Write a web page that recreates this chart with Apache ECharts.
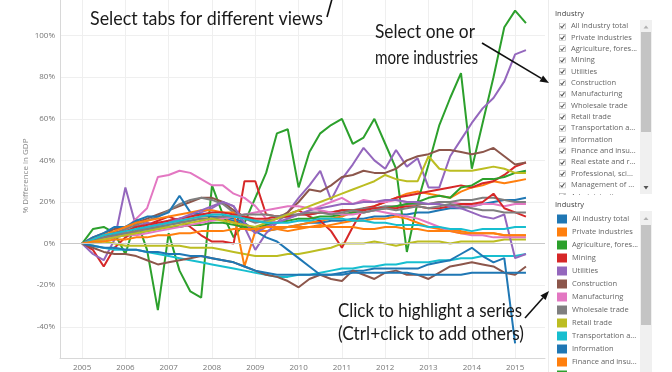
<!DOCTYPE html>
<html><head><meta charset="utf-8">
<script src="https://cdn.jsdelivr.net/npm/echarts@6/dist/echarts.min.js"></script>
<style>html,body{margin:0;padding:0;background:#fff}#c{width:672px;height:372px}</style>
</head><body><div id="c"></div>
<script>
const quarters = [2005,2005.25,2005.5,2005.75,2006,2006.25,2006.5,2006.75,2007,2007.25,2007.5,2007.75,2008,2008.25,2008.5,2008.75,2009,2009.25,2009.5,2009.75,2010,2010.25,2010.5,2010.75,2011,2011.25,2011.5,2011.75,2012,2012.25,2012.5,2012.75,2013,2013.25,2013.5,2013.75,2014,2014.25,2014.5,2014.75,2015,2015.25];
const yearTicks = [2005,2006,2007,2008,2009,2010,2011,2012,2013,2014,2015];
const pctTicks = [-40,-20,0,20,40,60,80,100,120];
const industries = ["All industry total","Private industries","Agriculture, forestry, fishing, and hunting","Mining","Utilities","Construction","Manufacturing","Wholesale trade","Retail trade","Transportation and warehousing","Information","Finance and insurance","Real estate and rental and leasing","Professional, scientific, and technical services","Management of companies and enterprises","Administrative and waste management services","Educational services","Health care and social assistance","Arts, entertainment, and recreation","Accommodation and food services","Other services, except government","Government"];

const allIndustryTotal = [0,2,3,4,5,6,7,8,9,10,11,12,12,12,11,9,7,6,7,8,9,10,10,11,11,12,12,13,13,14,14,15,15,16,17,17,18,19,20,21,21,22];
const privateIndustries = [0,2,3,4,5,6,8,9,10,11,12,13,13,12,10,7,6,6,7,8,9,10,11,12,13,15,16,18,20,22,24,25,24,23,22,25,27,28,30,29,30,31];
const agriculture = [0,7,8,5,-5,12,-3,-32,5,-13,-23,-26,28,14,3,10,22,34,53,55,27,44,53,57,60,48,51,60,48,36,-4,20,38,57,70,82,36,58,80,104,112,106];
const mining = [0,-3,-11,-2,3,6,9,11,13,11,8,4,1,1,0,30,30,14,13,14,16,13,11,6,-2,8,17,18,20,22,23,24,25,26,27,28,27,29,30,33,37,39];
const utilities = [0,-5,-8,2,27,8,10,9,11,12,13,15,17,20,18,8,-3,5,10,15,22,28,35,21,31,38,46,40,36,45,37,41,27,27,42,50,58,65,70,78,91,93];
const construction = [0,3,5,7,8,10,12,14,16,18,20,22,22,20,16,13,11,10,12,15,20,26,25,28,32,33,35,34,34,36,40,42,43,45,45,44,43,44,46,42,38,39];
const manufacturing = [0,2,4,5,7,12,17,32,33,35,34,31,28,28,24,22,18,12,10,12,14,16,18,20,22,19,21,20,20,21,20,19,19,20,20,19,18,19,19,18,19,19];
const wholesaleTrade = [0,2,4,5,7,9,11,13,16,19,21,22,21,19,15,12,10,11,12,13,14,14,15,15,16,16,17,17,18,18,19,19,19,20,20,21,21,22,22,21,20,20];
const retailTrade = [0,0,1,0,-1,-1,-1,-1,-1,-1,-2,-2,-2,-3,-4,-5,-6,-6,-6,-5,-5,-4,-3,-2,0,0,0,1,0,-1,0,1,1,1,0,1,1,1,1,2,2,2];
const transportation = [0,-1,-2,-3,-3,-3,-4,-5,-6,-7,-8,-9,-10,-11,-12,-13,-14,-15,-16,-16,-15,-15,-14,-13,-12,-12,-11,-11,-10,-10,-9,-9,-9,-8,-8,-7,-7,-6,-6,-6,-6,-5];
const information = [0,3,5,8,8,11,13,13,15,23,15,14,13,13,12,10,6,3,1,-3,-7,-11,-15,-15,-14,-13,-13,-12,-12,-12,-12,-12,-10,-9,-8,-5,-2,-6,-9,-7,-48,null];
const finance = [0,2,4,6,8,10,11,12,13,14,15,16,16,15,15,-11,6,9,7,6,7,8,8,9,10,11,11,12,12,13,12,10,8,7,6,6,5,5,5,4,4,4];
const realEstate = [0,1,2,3,4,5,6,7,8,8,9,9,10,10,9,8,8,9,10,11,12,12,13,13,14,15,15,16,17,18,19,20,22,23,22,27,28,31,31,32,34,35];
const professional = [0,2,3,5,6,8,9,10,11,12,13,14,15,15,14,13,12,12,13,13,14,14,15,15,16,16,16,17,17,17,18,18,17,17,18,19,19,20,24,17,15,13];
const management = [0,1,2,4,5,6,8,9,10,12,14,16,18,20,18,10,5,8,10,12,14,16,17,18,19,19,20,20,21,21,20,20,19,19,18,17,15,13,12,14,-7,-5];
const administrative = [0,-2,-4,-5,-5,-6,-8,-10,-9,-8,-7,-6,-7,-8,-9,-11,-13,-15,-16,-18,-21,-17,-15,-17,-18,-13,-15,-17,-14,-13,-15,-15,-17,-14,-11,-10,-9,-10,-11,-14,-15,-11];
const educational = [0,1,2,3,4,4,5,6,7,8,9,10,11,12,13,14,15,16,17,18,18,17,16,15,14,14,15,16,15,14,13,12,10,8,6,5,4,4,3,3,3,3];
const healthCare = [0,1,3,4,5,6,7,8,9,10,11,12,12,13,13,14,14,14,13,14,14,15,15,14,15,16,15,16,17,16,17,18,17,18,19,18,17,16,16,15,15,15];
const arts = [0,1,2,3,4,5,6,7,8,9,10,11,12,11,10,9,8,10,12,14,16,18,20,22,24,26,28,30,33,31,30,30,42,36,35,35,35,36,37,36,34,34];
const accommodation = [0,2,4,5,6,7,8,9,10,11,12,13,14,14,13,12,11,10,10,10,11,11,12,12,12,11,11,10,10,9,9,9,8,8,7,7,6,7,7,7,8,8];
const otherServices = [0,-1,-2,-2,-3,-3,-4,-4,-5,-5,-6,-6,-7,-8,-9,-11,-13,-14,-15,-15,-15,-15,-15,-15,-15,-14,-14,-14,-14,-14,-14,-15,-15,-15,-15,-15,-14,-14,-14,-14,-14,-14];
const government = [0,1,1,2,2,3,3,4,4,5,5,6,6,6,7,7,7,8,8,8,8,8,9,8,8,8,7,7,8,8,7,7,6,6,6,5,5,5,5,4,4,4];

const seriesValues = [allIndustryTotal,privateIndustries,agriculture,mining,utilities,construction,manufacturing,wholesaleTrade,retailTrade,transportation,information,finance,realEstate,professional,management,administrative,educational,healthCare,arts,accommodation,otherServices,government];

const palette = ['#1f77b4','#ff7f0e','#2ca02c','#d62728','#9467bd','#8c564b','#e377c2','#7f7f7f','#bcbd22','#17becf'];
const uiFont = '"Open Sans", "Noto Sans", sans-serif';

const mctx = document.createElement('canvas').getContext('2d');
function note(str, left, right, midY, size) {
  const font = size + 'px Lato';
  mctx.font = font;
  const w = mctx.measureText(str).width;
  return {type:'text', x:left, y:midY, scaleX:(right-left)/w, z:30,
    style:{text:str, font:font, fill:'#1a1a1a', align:'left', verticalAlign:'middle', textAlign:'left', textVerticalAlign:'middle'}};
}
function arrow(x1,y1,x2,y2,head) {
  const a = Math.atan2(y2-y1, x2-x1), hl = head || 8, hw = 3.5;
  const bx = x2 - hl*Math.cos(a), by = y2 - hl*Math.sin(a);
  const px = -Math.sin(a)*hw, py = Math.cos(a)*hw;
  return [
    {type:'line', z:30, shape:{x1:x1,y1:y1,x2:bx,y2:by}, style:{stroke:'#111', lineWidth:1.6}},
    {type:'polygon', z:30, shape:{points:[[x2,y2],[bx+px,by+py],[bx-px,by-py]]}, style:{fill:'#111'}}
  ];
}
const checkSvg = "<svg xmlns='http://www.w3.org/2000/svg' width='14' height='14'><rect x='1' y='1' width='12' height='12' fill='#fff' stroke='#aaa' stroke-width='1.2'/><path d='M3 7.5 L6 10.5 L11 3.5' stroke='#555' stroke-width='2.2' fill='none'/></svg>";
const checkIcon = 'image://data:image/svg+xml;charset=utf-8,' + encodeURIComponent(checkSvg);

const series = industries.map((name, k) => ({
  type:'line', name:name, color: palette[k % 10], symbol:'none', showSymbol:false,
  lineStyle:{width:2, color: palette[k % 10]}, emphasis:{disabled:true},
  data: quarters.map((q, i) => [q, seriesValues[k][i]])
}));
series[0].markLine = {silent:true, symbol:'none', label:{show:false}, lineStyle:{color:'#c8c8c8', width:1, type:'solid'}, data:[{yAxis:0}]};

const graphics = [
  {type:'line', z:1, shape:{x1:548.5,y1:0,x2:548.5,y2:372}, style:{stroke:'#ececec', lineWidth:1}},
  {type:'rect', z:5, shape:{x:640,y:20,width:12,height:174}, style:{fill:'#f0f0f0'}},
  {type:'rect', z:6, shape:{x:641,y:32,width:10,height:100}, style:{fill:'#c4c4c4'}},
  {type:'polygon', z:6, shape:{points:[[643.5,28.5],[648.5,28.5],[646,25.5]]}, style:{fill:'#b0b0b0'}},
  {type:'polygon', z:6, shape:{points:[[643.5,186],[648.5,186],[646,189.5]]}, style:{fill:'#555'}},
  {type:'rect', z:10, shape:{x:550,y:195,width:90,height:14}, style:{fill:'#fff'}},
  {type:'text', z:11, x:555, y:14, style:{text:'Industry', font:'7.5px ' + uiFont, fill:'#444', verticalAlign:'middle', textVerticalAlign:'middle'}},
  {type:'text', z:11, x:555, y:205, style:{text:'Industry', font:'7.5px ' + uiFont, fill:'#444', verticalAlign:'middle', textVerticalAlign:'middle'}},
  {type:'rect', z:5, shape:{x:640,y:211,width:12,height:161}, style:{fill:'#f0f0f0'}},
  {type:'rect', z:6, shape:{x:641,y:225,width:10,height:100}, style:{fill:'#c4c4c4'}},
  {type:'polygon', z:6, shape:{points:[[643.5,220],[648.5,220],[646,217]]}, style:{fill:'#b0b0b0'}},
  note('Select tabs for different views', 90, 323, 19, 20),
  {type:'line', z:30, shape:{x1:327,y1:17,x2:332,y2:-1}, style:{stroke:'#111', lineWidth:1.6}},
  note('Select one or', 375, 475, 32, 20),
  note('more industries', 375, 478, 58, 20),
  note('Click to highlight a series', 338, 522, 311, 20),
  note('(Ctrl+click to add others)', 338, 524, 334, 20)
].concat(arrow(482,43,549,83,9)).concat(arrow(525,318,549,291,9));

const legendText = {fontSize:7.5, color:'#666', fontFamily:uiFont, lineHeight:10, width:68, overflow:'truncate', ellipsis:'...'};
const option = {
  animation:false,
  backgroundColor:'#fff',
  grid:{left:60, right:127, top:-6, bottom:14, containLabel:false, outerBoundsMode:'none'},
  xAxis:{type:'value', min:2004.49, max:2015.69,
    axisLine:{show:true, onZero:false, lineStyle:{color:'#d8d8d8'}},
    axisTick:{show:false, customValues:yearTicks},
    splitLine:{show:true, lineStyle:{color:'#efefef', width:1}},
    axisLabel:{customValues:yearTicks, fontSize:8, color:'#777', margin:6, fontFamily:uiFont, formatter:v => String(v)}},
  yAxis:{type:'value', min:-55, max:120,
    name:'% Difference in GDP', nameLocation:'middle', nameGap:30, nameRotate:90, nameMoveOverlap:false,
    nameTextStyle:{fontSize:8, color:'#888', fontFamily:uiFont},
    axisLine:{show:true, lineStyle:{color:'#d8d8d8'}},
    axisTick:{show:false, customValues:pctTicks},
    splitLine:{show:true, lineStyle:{color:'#efefef', width:1}},
    axisLabel:{customValues:pctTicks, fontSize:8, color:'#777', margin:5, fontFamily:uiFont, formatter:v => v + '%'}},
  legend:[
    {orient:'vertical', left:559, top:21, padding:0, height:1000, data:industries.slice(0,16), icon:checkIcon,
     itemWidth:7, itemHeight:7, itemGap:1.36, selectedMode:false, textStyle:legendText},
    {orient:'vertical', left:557, top:214, padding:0, height:1000, data:industries.slice(0,14), icon:'rect',
     itemWidth:10, itemHeight:9, itemGap:3, selectedMode:false, textStyle:legendText}
  ],
  graphic:graphics,
  series:series
};
const chart = echarts.init(document.getElementById('c'), null, {renderer:'canvas'});
chart.setOption(option);
</script></body></html>
